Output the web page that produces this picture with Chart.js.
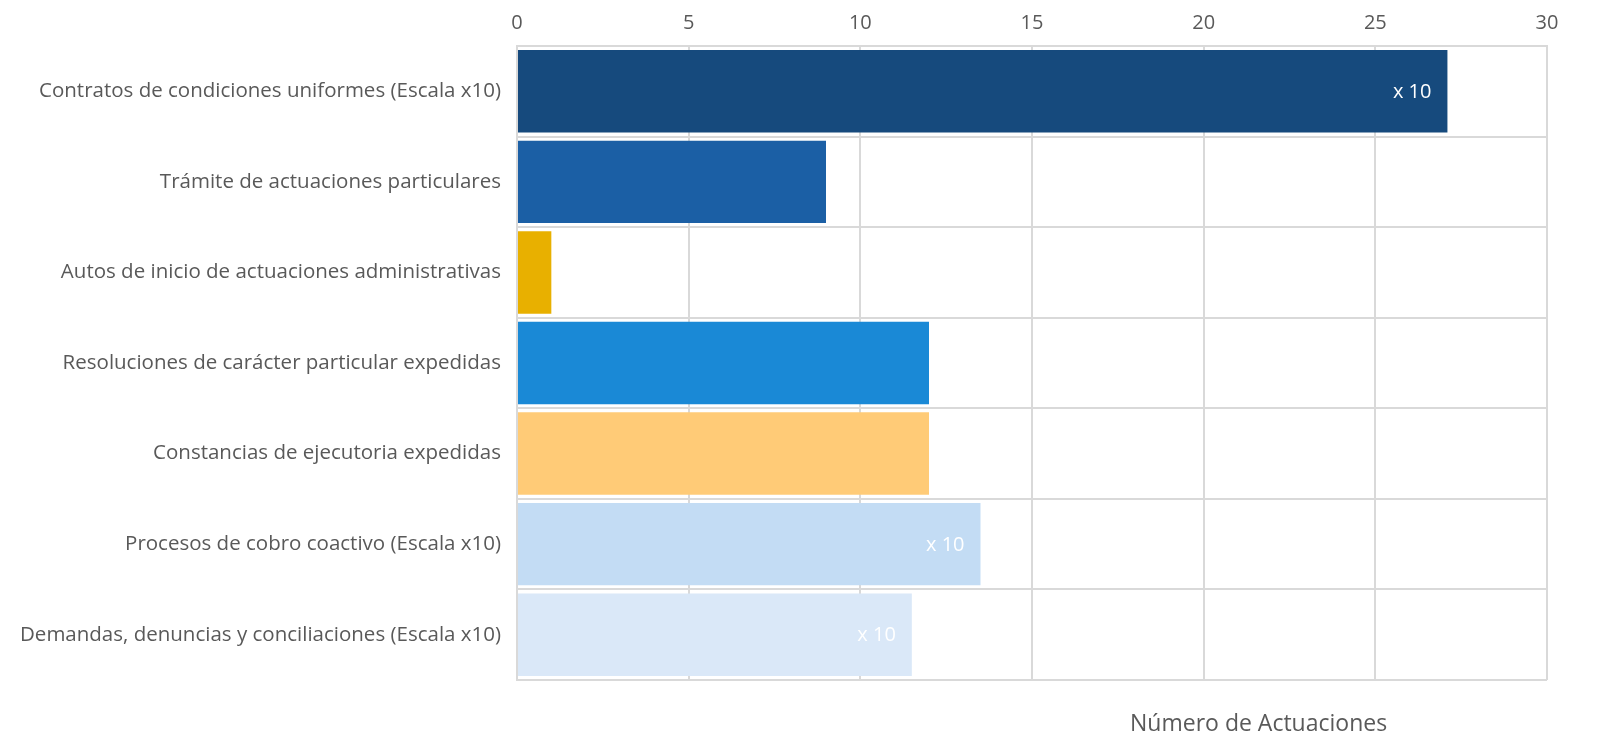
<!DOCTYPE html>
<html>
<head>
<meta charset="utf-8">
<script src="https://cdn.jsdelivr.net/npm/chart.js@4/dist/chart.umd.min.js"></script>
<style>
  html, body { margin: 0; padding: 0; background: #fff; }
  #wrap { width: 1604px; height: 751px; position: relative; }
</style>
</head>
<body>
<div id="wrap"><canvas id="chart"></canvas></div>
<script>
// Categories and values (bars marked x10 are shown at one tenth of their real count)
const categories = [
  'Contratos de condiciones uniformes (Escala x10)',
  'Trámite de actuaciones particulares',
  'Autos de inicio de actuaciones administrativas',
  'Resoluciones de carácter particular expedidas',
  'Constancias de ejecutoria expedidas',
  'Procesos de cobro coactivo (Escala x10)',
  'Demandas, denuncias y conciliaciones (Escala x10)'
];
const values = [27.1, 9, 1, 12, 12, 13.5, 11.5];
const barLabels = ['x 10', '', '', '', '', 'x 10', 'x 10'];
const barColors = ['#164A7D', '#1B5FA5', '#E8B000', '#1A89D6', '#FFCB77', '#C3DCF4', '#DAE8F8'];
const xTicks = [0, 5, 10, 15, 20, 25, 30];
const axisTitle = 'Número de Actuaciones';

const FONT = '"Open Sans", "Liberation Sans", sans-serif';
const TEXT = '#595959';
const GRID = '#d9d9d9';

// white "x 10" marks at the end of the scaled bars
const barTextPlugin = {
  id: 'barText',
  afterDatasetsDraw(chart) {
    const ctx = chart.ctx;
    const meta = chart.getDatasetMeta(0);
    ctx.save();
    ctx.font = '20px ' + FONT;
    ctx.fillStyle = '#ffffff';
    ctx.textAlign = 'right';
    ctx.textBaseline = 'middle';
    meta.data.forEach((bar, i) => {
      if (barLabels[i]) ctx.fillText(barLabels[i], bar.x - 16, bar.y + 1);
    });
    ctx.restore();
  }
};

// axis title sits under the plot, shifted right like the original
const axisTitlePlugin = {
  id: 'axisTitle',
  afterDraw(chart) {
    const { ctx, chartArea } = chart;
    ctx.save();
    ctx.font = '23px ' + FONT;
    ctx.fillStyle = TEXT;
    ctx.textAlign = 'center';
    ctx.textBaseline = 'middle';
    ctx.fillText(axisTitle, chartArea.left + (chartArea.right - chartArea.left) * 0.72, chartArea.bottom + 44);
    ctx.restore();
  }
};

new Chart(document.getElementById('chart'), {
  type: 'bar',
  data: {
    labels: categories,
    datasets: [{
      data: values,
      backgroundColor: barColors,
      borderWidth: 0,
      barPercentage: 0.91,
      categoryPercentage: 1
    }]
  },
  options: {
    indexAxis: 'y',
    responsive: true,
    maintainAspectRatio: false,
    animation: false,
    layout: { padding: { top: 0, right: 57, bottom: 71, left: 4 } },
    plugins: { legend: { display: false }, tooltip: { enabled: false } },
    scales: {
      x: {
        position: 'top',
        min: 0,
        max: 30,
        afterBuildTicks: (axis) => { axis.ticks = xTicks.map(v => ({ value: v })); },
        grid: { color: GRID, lineWidth: 2, drawTicks: false },
        border: { color: GRID, width: 2 },
        ticks: { color: TEXT, font: { family: FONT, size: 20 }, padding: 11 }
      },
      y: {
        grid: { color: GRID, lineWidth: 2, drawTicks: false, offset: true },
        border: { color: GRID, width: 2 },
        ticks: { color: TEXT, font: { family: FONT, size: 20.5 }, padding: 16 }
      }
    }
  },
  plugins: [barTextPlugin, axisTitlePlugin]
});
</script>
</body>
</html>
